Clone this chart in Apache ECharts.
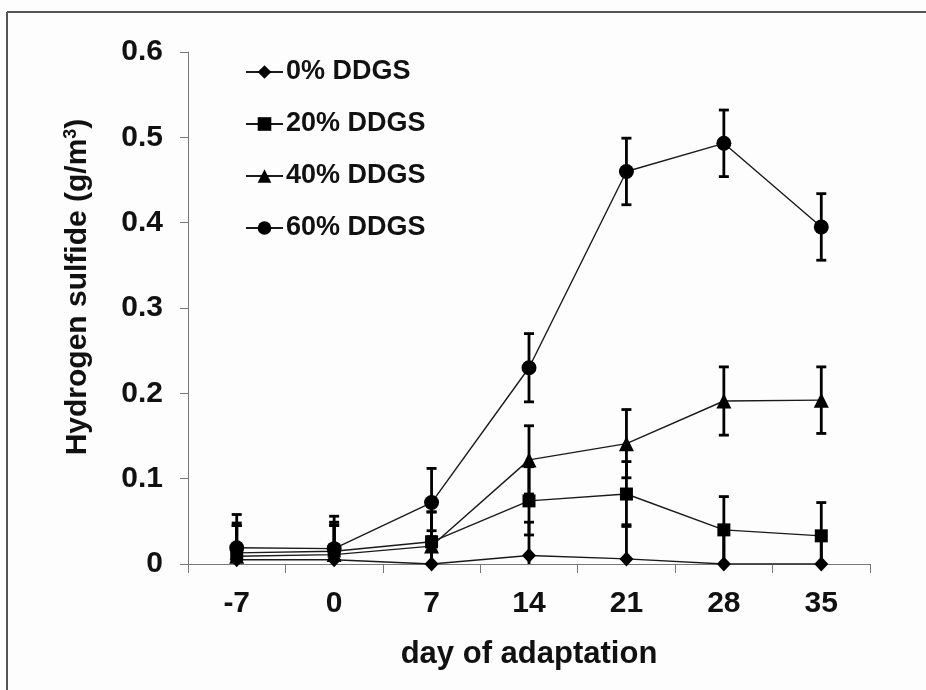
<!DOCTYPE html>
<html>
<head>
<meta charset="utf-8">
<script src="https://cdn.jsdelivr.net/npm/echarts@6/dist/echarts.min.js"></script>
<style>
html,body{margin:0;padding:0;background:#fdfdfd;overflow:hidden;}
#c{width:926px;height:690px;}
</style>
</head>
<body>
<div id="c"></div>
<script>
const days = ['-7', '0', '7', '14', '21', '28', '35'];
const seriesNames = ['0% DDGS', '20% DDGS', '40% DDGS', '60% DDGS'];
const ddgs0  = [0.005, 0.005, 0.000, 0.010, 0.006, 0.000, 0.000];
const ddgs20 = [0.013, 0.015, 0.026, 0.074, 0.082, 0.040, 0.033];
const ddgs40 = [0.009, 0.011, 0.021, 0.122, 0.141, 0.191, 0.192];
const ddgs60 = [0.019, 0.018, 0.072, 0.230, 0.460, 0.493, 0.395];
const err0  = [0.040, 0.040, 0.039, 0.039, 0.040, 0.035, 0.035];
const err20 = [0.035, 0.034, 0.035, 0.040, 0.038, 0.039, 0.039];
const err40 = [0.036, 0.035, 0.040, 0.040, 0.040, 0.040, 0.039];
const err60 = [0.039, 0.038, 0.040, 0.040, 0.039, 0.039, 0.039];
const yTicks = ['0', '0.1', '0.2', '0.3', '0.4', '0.5', '0.6'];

const values = [ddgs0, ddgs20, ddgs40, ddgs60];
const errors = [err0, err20, err40, err60];
const symbols = ['diamond', 'rect', 'triangle', 'circle'];
const symbolSizes = [[14, 15], 13, 15, 15];

const FONT = 'Arial, "Liberation Sans", sans-serif';
const chart = echarts.init(document.getElementById('c'));

const lineSeries = values.map((v, k) => ({
  name: seriesNames[k],
  type: 'line',
  data: v,
  symbol: symbols[k],
  symbolSize: symbolSizes[k],
  z: 3,
  itemStyle: {color: '#000'},
  lineStyle: {color: '#1a1a1a', width: 1.4}
}));

const errSeries = values.map((v, k) => ({
  name: 'err' + k,
  type: 'custom',
  z: 2,
  data: v.map((y, i) => [i, Math.max(0, y - errors[k][i]), y + errors[k][i]]),
  encode: {x: 0, y: [1, 2]},
  renderItem: function (params, api) {
    const lo = api.coord([api.value(0), api.value(1)]);
    const hi = api.coord([api.value(0), api.value(2)]);
    const w = 5;
    const st = {stroke: '#000', lineWidth: 2.8};
    const children = [
      {type: 'line', shape: {x1: hi[0], y1: hi[1], x2: lo[0], y2: lo[1]}, style: st},
      {type: 'line', shape: {x1: hi[0] - w, y1: hi[1], x2: hi[0] + w, y2: hi[1]}, style: st}
    ];
    if (api.value(1) > 0) {
      children.push({type: 'line', shape: {x1: lo[0] - w, y1: lo[1], x2: lo[0] + w, y2: lo[1]}, style: st});
    }
    return {type: 'group', children: children};
  }
}));

chart.setOption({
  backgroundColor: '#fdfdfd',
  animation: false,
  textStyle: {fontFamily: FONT},
  grid: {left: 188, right: 56, top: 52, bottom: 126, containLabel: false},
  legend: {
    data: seriesNames,
    orient: 'vertical',
    left: 245,
    top: 58,
    padding: 0,
    itemWidth: 37,
    itemHeight: 17,
    itemGap: 24,
    selectedMode: false,
    textStyle: {fontFamily: FONT, fontSize: 27, fontWeight: 'bold', color: '#111', lineHeight: 28, padding: [0, 0, 0, -2]}
  },
  xAxis: {
    type: 'category',
    data: days,
    boundaryGap: true,
    name: 'day of adaptation',
    nameLocation: 'middle',
    nameGap: 75,
    nameTextStyle: {fontFamily: FONT, fontSize: 31, fontWeight: 'bold', color: '#111'},
    axisLine: {lineStyle: {color: '#777', width: 1}},
    axisTick: {show: true, length: 9, lineStyle: {color: '#777'}},
    axisLabel: {fontFamily: FONT, fontSize: 30, fontWeight: 'bold', color: '#111', margin: 25},
    splitLine: {show: false}
  },
  yAxis: {
    type: 'value',
    min: 0,
    max: 0.6,
    interval: 0.1,
    name: 'Hydrogen sulfide (g/m{sup|3})',
    nameLocation: 'middle',
    nameGap: 94,
    nameTextStyle: {
      fontFamily: FONT, fontSize: 30, fontWeight: 'bold', color: '#111',
      padding: [0, 0, 0, 42],
      rich: {sup: {fontFamily: FONT, fontSize: 18, fontWeight: 'bold', color: '#111', verticalAlign: 'top', padding: [0, 0, 14, 0]}}
    },
    axisLine: {show: true, lineStyle: {color: '#777', width: 1}},
    axisTick: {show: true, length: 8, lineStyle: {color: '#777'}},
    axisLabel: {
      fontFamily: FONT, fontSize: 30, fontWeight: 'bold', color: '#111', margin: 25,
      formatter: function (v) { return yTicks[Math.round(v * 10)]; }
    },
    splitLine: {show: false}
  },
  graphic: [
    {type: 'line', shape: {x1: 7, y1: 12, x2: 926, y2: 12}, style: {stroke: '#555', lineWidth: 2}},
    {type: 'line', shape: {x1: 7, y1: 12, x2: 7, y2: 690}, style: {stroke: '#555', lineWidth: 2}}
  ],
  series: errSeries.concat(lineSeries)
});
</script>
</body>
</html>
